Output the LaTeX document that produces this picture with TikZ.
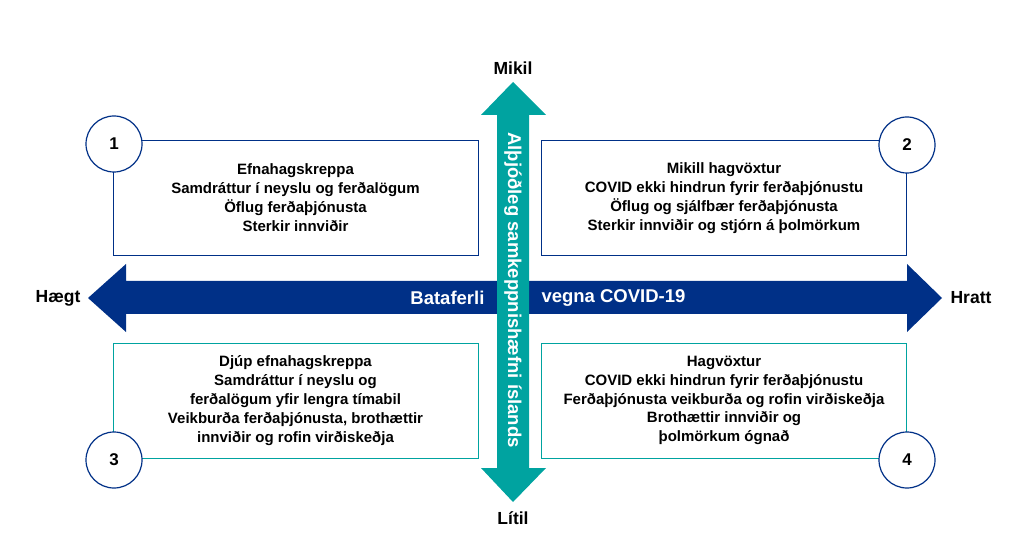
\documentclass[tikz,border=0pt]{standalone}
\usepackage{fontspec}
\setmainfont{Liberation Sans}
\definecolor{navy}{RGB}{0,48,135}
\definecolor{teal}{RGB}{0,163,160}
\newcommand{\boxtext}{\fontsize{15}{18.8}\selectfont\bfseries}

\begin{document}
\begin{tikzpicture}[x=1pt,y=-1pt,
    quad/.style={draw, rectangle, line width=0.9pt, minimum width=365pt, minimum height=115pt, align=center, inner sep=0pt, font=\boxtext},
    num/.style={draw=navy, circle, fill=white, line width=1.2pt, minimum size=56pt, inner sep=0pt, font=\fontsize{17}{17}\selectfont\bfseries},
    axis/.style={font=\fontsize{17.5}{17.5}\selectfont\bfseries},
    band/.style={text=white, font=\fontsize{18.5}{18.5}\selectfont\bfseries}]
    \useasboundingbox (0,0) rectangle (1020,545);

    % Horizontal arrow
    \fill[navy] (88,298) -- (126,264) -- (126,281) -- (907,281) -- (907,264) -- (942,298)
        -- (907,332) -- (907,314) -- (126,314) -- (126,332) -- cycle;
    \node[band, anchor=east] (band-left) at (488,298) {Bataferli};
    \node[band, anchor=west] (band-right) at (538,298) {vegna COVID-19};

    % Vertical arrow
    \fill[teal] (513,82) -- (546,115) -- (529,115) -- (529,468) -- (546,468) -- (513,502)
        -- (481,468) -- (497,468) -- (497,115) -- (481,115) -- cycle;
    \node[band, rotate=-90] (band-vert) at (513,290) {Alþjóðleg samkeppnishæfni íslands};

    % Axis labels
    \node[axis] (mikil) at (513,68) {Mikil};
    \node[axis] (litil) at (513,518) {Lítil};
    \node[axis] (haegt) at (58,298) {Hægt};
    \node[axis] (hratt) at (971,298) {Hratt};

    % Top row
    \node[quad, draw=navy] (quad-1) at (295.5,197.5) {Efnahagskreppa\\Samdráttur í neyslu og ferðalögum\\Öflug ferðaþjónusta\\Sterkir innviðir};
    \node[quad, draw=navy] (quad-2) at (724,198) {Mikill hagvöxtur\\COVID ekki hindrun fyrir ferðaþjónustu\\Öflug og sjálfbær ferðaþjónusta\\Sterkir innviðir og stjórn á þolmörkum};

    % Bottom row
    \node[quad, draw=teal] (quad-3) at (295.5,400.5) {Djúp efnahagskreppa\\Samdráttur í neyslu og\\ferðalögum yfir lengra tímabil\\Veikburða ferðaþjónusta, brothættir\\innviðir og rofin virðiskeðja};
    \node[quad, draw=teal] (quad-4) at (724,400.5) {Hagvöxtur\\COVID ekki hindrun fyrir ferðaþjónustu\\Ferðaþjónusta veikburða og rofin virðiskeðja\\Brothættir innviðir og\\þolmörkum ógnað};

    % Numbers
    \node[num] (num-1) at (114,144) {1};
    \node[num] (num-2) at (907,145) {2};
    \node[num] (num-3) at (114,460) {3};
    \node[num] (num-4) at (907,460) {4};

\end{tikzpicture}
\end{document}
